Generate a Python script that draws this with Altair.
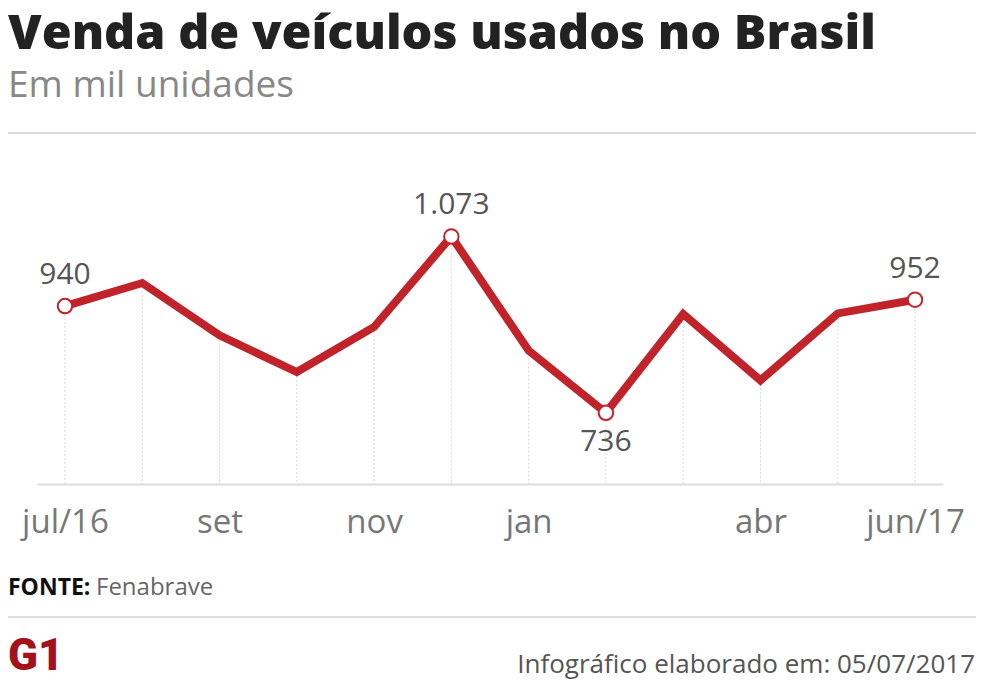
import altair as alt
import pandas as pd

meses = ["jul/16", "ago", "set", "out", "nov", "dez", "jan", "fev", "mar", "abr", "mai", "jun/17"]
vendas = [940, 984, 884, 814, 900, 1073, 855, 736, 925, 798, 926, 952]
rotulos_eixo = ["jul/16", "set", "nov", "jan", "abr", "jun/17"]
destaques_acima = ["jul/16", "dez", "jun/17"]
destaques_abaixo = ["fev"]

titulo = "Venda de veículos usados no Brasil"
subtitulo = "Em mil unidades"
fonte_rotulo = "FONTE:"
fonte_nome = "Fenabrave"
rodape = "Infográfico elaborado em: 05/07/2017"
logo = "G1"

RED = "#c1232b"
W, H = 906, 314

df = pd.DataFrame({"mes": meses, "vendas": vendas})
df["destaque"] = df["mes"].isin(destaques_acima + destaques_abaixo)

xenc = alt.X(
    "mes:O",
    sort=meses,
    scale=alt.Scale(type="point", padding=0.362),
    axis=alt.Axis(values=rotulos_eixo, title=None, labelAngle=0, ticks=False,
                  labelPadding=38, labelBaseline="middle", labelFont="Open Sans",
                  labelFontSize=33, labelColor="#777", domainColor="#dcdcdc",
                  domainWidth=2, grid=False),
)
yscale = alt.Scale(domain=[600, 1200], nice=False, zero=False)
yenc = alt.Y("vendas:Q", scale=yscale, axis=None)

base = alt.Chart(df)

grid = base.mark_rule(color="#d8d8d8", strokeDash=[2, 2], strokeWidth=1).encode(
    x=xenc, y=yenc, y2=alt.value(H)
)
line = base.mark_line(color=RED, strokeWidth=8, strokeJoin="miter").encode(x=xenc, y=yenc)
pts = base.transform_filter("datum.destaque").mark_point(
    shape="circle", filled=True, fill="white", stroke=RED, strokeWidth=2, size=210, opacity=1
).encode(x=xenc, y=yenc)

lab_fmt = "replace(format(datum.vendas, ','), ',', '.')"
above = base.transform_filter(
    alt.FieldOneOfPredicate(field="mes", oneOf=destaques_acima)
).transform_calculate(rot=lab_fmt).mark_text(
    dy=-31, font="Open Sans", fontSize=30, color="#555"
).encode(x=xenc, y=yenc, text="rot:N")
below = base.transform_filter(
    alt.FieldOneOfPredicate(field="mes", oneOf=destaques_abaixo)
).transform_calculate(rot=lab_fmt).mark_text(
    dy=29, font="Open Sans", fontSize=30, color="#555"
).encode(x=xenc, y=yenc, text="rot:N")


def txt(s, x, y, **kw):
    return alt.Chart(pd.DataFrame({"t": [s]})).mark_text(baseline="alphabetic", **kw).encode(
        x=alt.value(x), y=alt.value(y), text="t:N"
    )


def hline(y):
    return alt.Chart(pd.DataFrame({"a": [0]})).mark_rule(color="#dedede", strokeWidth=2).encode(
        x=alt.value(-37), x2=alt.value(950), y=alt.value(y)
    )


t_title = txt(titulo, -29, -121, align="left", font="Open Sans", fontWeight=800, fontSize=48.5, color="#222")
t_sub = txt(subtitulo, -29, -73, align="left", font="Open Sans", fontSize=37, color="#888")
t_f1 = txt(fonte_rotulo, -29, 425, align="left", font="Open Sans", fontWeight="bold", fontSize=23, color="#111")
t_f2 = txt(fonte_nome, 59, 425, align="left", font="Open Sans", fontSize=24, color="#666")
t_rod = txt(rodape, 938, 503, align="right", font="Open Sans", fontSize=26, color="#555")
t_logo = txt(logo, -29, 500, align="left", font="Roboto", fontWeight=900,
             fontSize=44, color="#a3121b")

chart = alt.layer(
    hline(-37), hline(447), grid, line, pts, above, below,
    t_title, t_sub, t_f1, t_f2, t_rod, t_logo
).properties(
    width=W, height=H,
    autosize=alt.AutoSizeParams(type="none"),
    padding={"left": 29, "top": 162, "right": 33, "bottom": 197},
    background="white",
).configure_view(stroke=None)

chart.save("out.html", embed_options={"renderer": "svg", "actions": False})
